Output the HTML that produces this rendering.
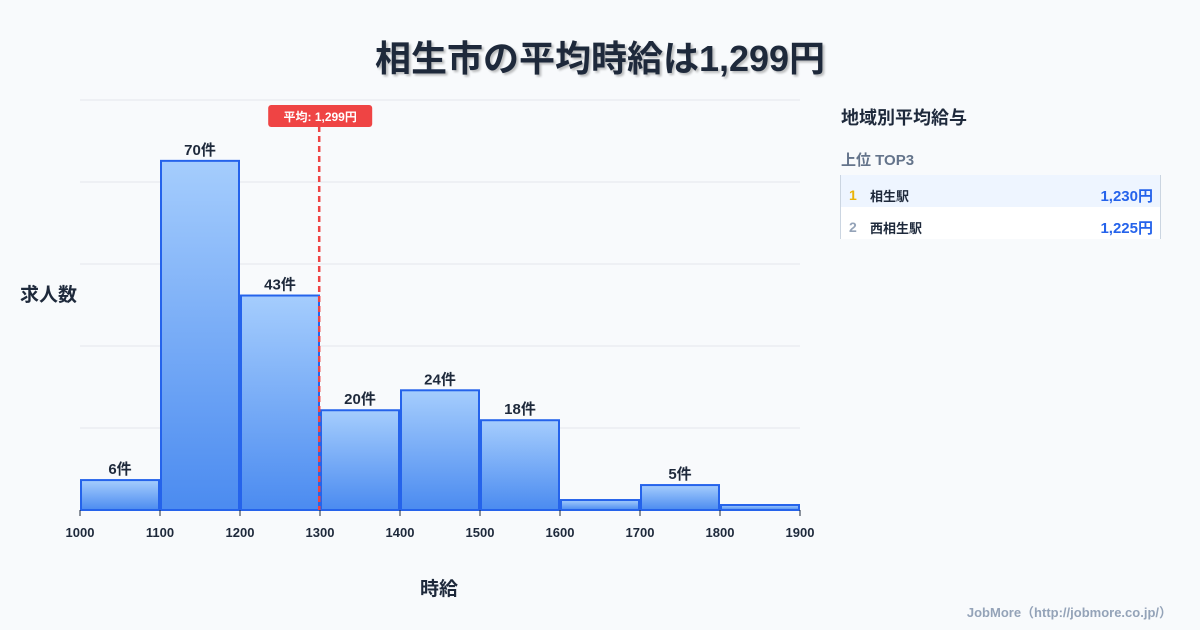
<!DOCTYPE html>
<html><head><meta charset="utf-8"><style>
body{margin:0;width:1200px;height:630px;background:#f8fafc;font-family:"Liberation Sans","Noto Sans CJK JP",sans-serif;overflow:hidden;position:relative}
.t{position:absolute}
</style></head><body>
<div class="t" style="left:0;width:1200px;top:30px;text-align:center;font-size:36px;font-weight:bold;color:#1e293b;text-shadow:2px 2px 2px rgba(0,0,0,0.25)">相生市の平均時給は1,299円</div>
<svg id="c" class="t" style="left:0;top:0" width="1200" height="630">
<defs><linearGradient id="g" x1="0" y1="0" x2="0" y2="1"><stop offset="0" stop-color="#a5cdfd"/><stop offset="1" stop-color="#4b8bf0"/></linearGradient></defs>
</svg>
<div class="t" style="left:20px;top:280px;font-size:19px;font-weight:bold;color:#1e293b">求人数</div>
<div class="t" style="left:420px;top:574px;font-size:19px;font-weight:bold;color:#1e293b">時給</div>
<div class="t" style="left:841px;top:104px;font-size:18px;font-weight:bold;color:#1e293b">地域別平均給与</div>
<div class="t" style="left:841px;top:149px;font-size:15px;font-weight:bold;color:#64748b">上位 TOP3</div>
<div class="t" style="left:840px;top:175px;width:319px;height:64px;border-left:1px solid #cbd5e1;border-right:1px solid #cbd5e1">
 <div style="height:32px;background:#eef5ff;position:relative;font-size:13px;font-weight:bold">
  <span style="position:absolute;left:8px;top:12px;color:#eab308;font-size:14px">1</span>
  <span style="position:absolute;left:29px;top:11px;color:#1e293b">相生駅</span>
  <span style="position:absolute;right:7px;top:10px;color:#2563eb;font-size:15px">1,230円</span></div>
 <div style="height:32px;background:#fff;position:relative;font-size:13px;font-weight:bold">
  <span style="position:absolute;left:8px;top:12px;color:#94a3b8;font-size:14px">2</span>
  <span style="position:absolute;left:29px;top:11px;color:#1e293b">西相生駅</span>
  <span style="position:absolute;right:7px;top:10px;color:#2563eb;font-size:15px">1,225円</span></div>
</div>
<div class="t" style="right:28px;top:602px;font-size:13px;font-weight:bold;color:#94a3b8">JobMore（http://jobmore.co.jp/）</div>
<script>
const binStarts=[1000,1100,1200,1300,1400,1500,1600,1700,1800];
const counts=[6,70,43,20,24,18,2,5,1];
const showLabel=[true,true,true,true,true,true,false,true,false];
const xTicks=[1000,1100,1200,1300,1400,1500,1600,1700,1800,1900];
const avgValue=1299;
const yMax=82.2;
const svg=document.getElementById('c');const NS='http://www.w3.org/2000/svg';
const x0=80,x1=800,yb=510,yt=100;
const X=v=>x0+(v-1000)/(1900-1000)*(x1-x0);
const Y=v=>yb-v/yMax*(yb-yt);
function mk(t,a){const e=document.createElementNS(NS,t);for(const k in a)e.setAttribute(k,a[k]);svg.appendChild(e);return e;}
for(let i=0;i<=5;i++){const y=yt+i*(yb-yt)/5;const l=mk('line',{x1:x0,x2:x1,y1:y,y2:y,stroke:'#e5e7eb','stroke-width':1});

}
binStarts.forEach((b,i)=>{const xa=X(b)+1,xb=X(b+100)-1,y=Y(counts[i]);
const r=mk('rect',{x:xa,y:y,width:xb-xa,height:yb-y,fill:'url(#g)',stroke:'#2563eb','stroke-width':2});


if(showLabel[i]){const t=mk('text',{x:(xa+xb)/2,y:y-6,'text-anchor':'middle','font-size':15,'font-weight':'bold',fill:'#1e293b'});t.textContent=counts[i]+'件';

}});
xTicks.forEach(v=>{const tk=mk('line',{x1:X(v),x2:X(v),y1:yb,y2:yb+6,stroke:'#1e293b','stroke-width':1});


const t=mk('text',{x:X(v),y:537,'text-anchor':'middle','font-size':13,'font-weight':'bold',fill:'#1e293b'});t.textContent=v;

});
const ax=X(avgValue);
const al=mk('line',{x1:ax,x2:ax,y1:126,y2:yb,stroke:'#ef4444','stroke-width':2.5,'stroke-dasharray':'6,4'});


const bg=mk('rect',{x:ax-51,y:105,width:104,height:22,rx:3,fill:'#ef4444'});


const at=mk('text',{x:ax+1,y:121,'text-anchor':'middle','font-size':12,'font-weight':'bold',fill:'#fff'});at.textContent='平均: 1,299円';


</script>
</body></html>
